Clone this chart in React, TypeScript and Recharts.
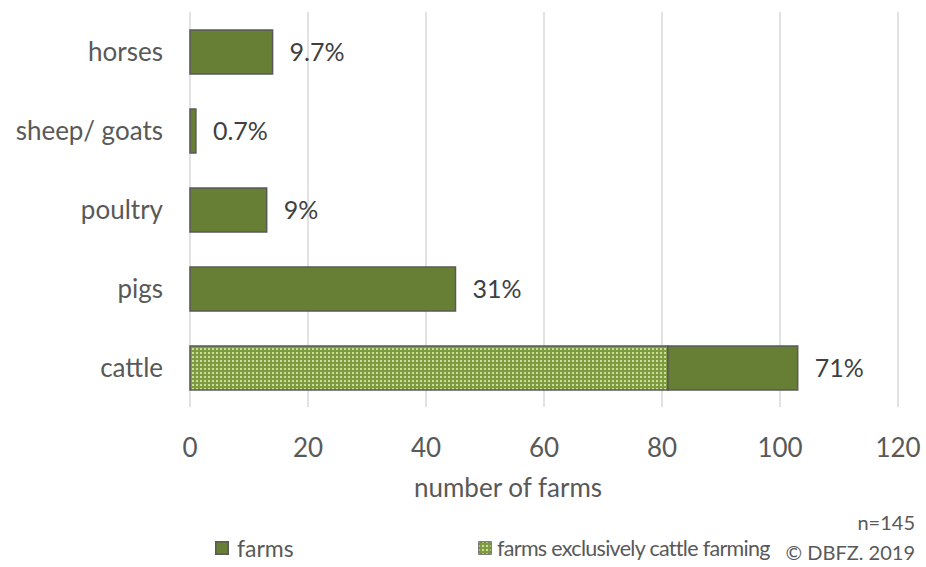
import { BarChart, Bar, XAxis, YAxis, CartesianGrid, LabelList } from 'recharts';

const categories = ['horses', 'sheep/ goats', 'poultry', 'pigs', 'cattle'];
const exclusiveCattle = [0, 0, 0, 0, 81];
const farmsRest = [14, 1, 13, 45, 22];
const shareLabels = ['9.7%', '0.7%', '9%', '31%', '71%'];
const xTicks = [0, 20, 40, 60, 80, 100, 120];

const data = categories.map((name, i) => ({
  name,
  exclusive: exclusiveCattle[i],
  farms: farmsRest[i],
  share: shareLabels[i],
}));

const FONT = 'Lato, "Open Sans", sans-serif';
const TEXT = '#595959';
const GREEN = '#677e35';
const BORDER = '#595959';

function PatternDef({ id }: { id: string }) {
  return (
    <pattern id={id} width="4" height="4" patternUnits="userSpaceOnUse">
      <rect width="4" height="4" fill="#7f9b40" />
      <rect x="0" y="0" width="2" height="2" fill="#cadd9c" />
    </pattern>
  );
}

export default function App() {
  return (
    <div style={{ position: 'absolute', left: 0, top: 0, width: 926, height: 567, background: '#fff', fontFamily: FONT }}>
      <BarChart
        width={926}
        height={567}
        data={data}
        layout="vertical"
        margin={{ top: 12, right: 28, bottom: 130, left: 0 }}
        barSize={44}
      >
        <defs>
          <PatternDef id="cattleDots" />
        </defs>
        <CartesianGrid horizontal={false} stroke="#d9d9d9" strokeWidth={1.5} />
        <XAxis
          type="number"
          domain={[0, 120]}
          ticks={xTicks}
          axisLine={false}
          tickLine={false}
          tickSize={0}
          tickMargin={32}
          height={30}
          tick={{ fill: TEXT, fontSize: 26, fontFamily: FONT }}
        />
        <YAxis
          type="category"
          dataKey="name"
          width={190}
          axisLine={false}
          tickLine={false}
          tickSize={0}
          tickMargin={27}
          tick={{ fill: TEXT, fontSize: 26, fontFamily: FONT }}
        />
        <Bar dataKey="exclusive" stackId="a" fill="url(#cattleDots)" stroke={BORDER} strokeWidth={1.5} isAnimationActive={false} />
        <Bar dataKey="farms" stackId="a" fill={GREEN} stroke={BORDER} strokeWidth={1.5} isAnimationActive={false}>
          <LabelList dataKey="share" position="right" offset={17} fill="#404040" fontSize={25} fontFamily={FONT} />
        </Bar>
      </BarChart>

      <div style={{ position: 'absolute', left: 0, width: 1016, top: 472, textAlign: 'center', fontSize: 26, color: TEXT, lineHeight: '30px' }}>
        number of farms
      </div>

      <div style={{ position: 'absolute', left: 215, top: 533, height: 30, display: 'flex', alignItems: 'center', fontSize: 23, color: TEXT }}>
        <svg width={14} height={14} style={{ marginRight: 8 }}>
          <rect x={0.75} y={0.75} width={12.5} height={12.5} fill={GREEN} stroke={BORDER} strokeWidth={1.5} />
        </svg>
        farms
      </div>
      <div style={{ position: 'absolute', left: 478, top: 533, height: 30, display: 'flex', alignItems: 'center', fontSize: 21.5, letterSpacing: -0.7, color: TEXT, whiteSpace: 'nowrap' }}>
        <svg width={14} height={14} style={{ marginRight: 5 }}>
          <defs>
            <PatternDef id="legendDots" />
          </defs>
          <rect x={0.75} y={0.75} width={12.5} height={12.5} fill="url(#legendDots)" stroke={BORDER} strokeWidth={1} />
        </svg>
        farms exclusively cattle farming
      </div>

      <div style={{ position: 'absolute', right: 11, top: 507, textAlign: 'right', fontSize: 20, color: TEXT, lineHeight: '30px' }}>
        n=145
        <br />
        © DBFZ. 2019
      </div>
    </div>
  );
}
